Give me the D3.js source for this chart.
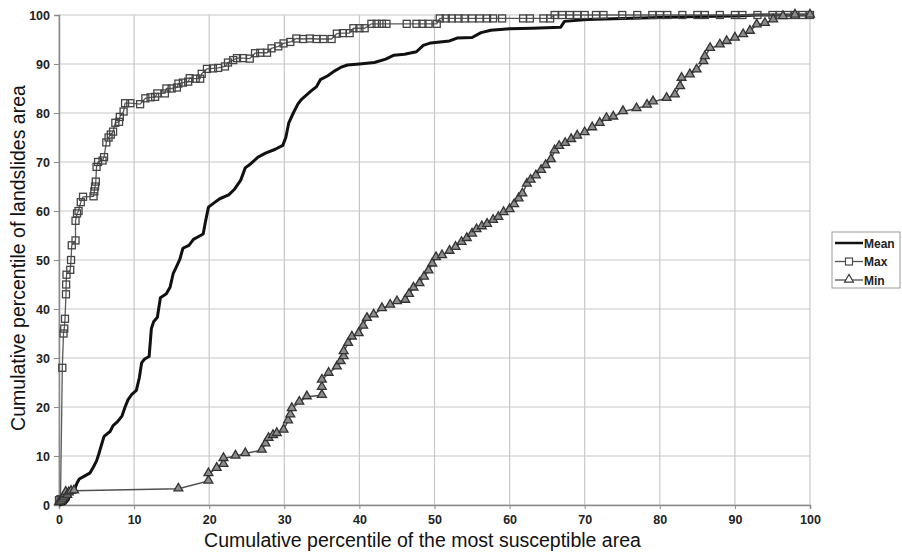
<!DOCTYPE html>
<html>
<head>
<meta charset="utf-8">
<script src="https://cdn.jsdelivr.net/npm/d3@7"></script>
<style>
  body { margin: 0; background: #fff; }
  svg text { font-family: "Liberation Sans", Arial, sans-serif; }
</style>
</head>
<body>
<div id="chart"></div>
<script>
// tick values for both axes
var xTicks = [0, 10, 20, 30, 40, 50, 60, 70, 80, 90, 100];
var yTicks = [0, 10, 20, 30, 40, 50, 60, 70, 80, 90, 100];

// series: [x, y]
var meanData = [[0,0],[0.8,0.3],[1.2,1],[1.5,2.2],[2.0,2.8],[2.4,4.5],[2.7,5.3],[3.5,6],[4.1,6.5],[4.6,7.8],
  [5.0,9],[5.3,10.4],[5.7,12.5],[6.0,14],[6.8,15],[7.2,16.2],[7.8,17],[8.4,18.2],[8.8,20],[9.2,21.5],
  [9.7,22.6],[10.3,23.4],[10.7,26],[11.0,29],[11.4,29.8],[12.0,30.3],[12.3,36],[12.6,37.4],[13.1,38.3],
  [13.5,42.3],[14.3,43.1],[14.8,44.5],[15.2,47.2],[15.6,48.5],[16.1,50.2],[16.5,52.4],[17.3,53],[17.9,54.2],
  [18.6,54.8],[19.2,55.3],[19.5,57.8],[19.9,60.8],[20.6,61.6],[21.4,62.5],[22.6,63.3],[23.4,64.5],[24.2,66.3],
  [24.8,68.8],[25.5,69.6],[26.5,71],[27.5,71.8],[28.8,72.6],[29.8,73.4],[30.2,75],[30.6,78],[31.2,80],
  [31.8,81.8],[32.3,82.8],[33.5,84.4],[34.3,85.4],[34.8,86.8],[35.8,87.6],[36.6,88.5],[37.5,89.3],[38.4,89.8],
  [40,90],[42,90.3],[43.5,91],[44.6,91.8],[46,92],[47.6,92.5],[48.5,93.8],[49.5,94.3],[52,94.7],[53,95.3],
  [55,95.4],[56.2,96.4],[57.5,96.9],[60,97.2],[63,97.3],[66.8,97.5],[67.3,98.7],[70.3,99.1],[75,99.3],
  [80,99.5],[85,99.7],[90,99.8],[93,100],[100,100]];

var maxData = [[0,1],[0.2,1.2],[0.44,28],[0.6,35],[0.7,36],[0.8,38],[0.93,43],[0.95,45],[1.0,47],[1.5,48],
  [1.6,50],[1.7,53],[2.2,54],[2.2,58],[2.4,59.5],[2.6,60],[2.9,61.8],[3.2,62.9],[4.6,63],[4.7,64],[4.8,65],
  [4.9,66],[5.0,69],[5.2,70],[5.8,70.3],[6.0,71],[6.3,74],[6.6,75],[6.9,75.6],[7.2,76.2],[7.5,78],[8.0,78.2],
  [8.1,79.2],[8.6,80.3],[8.8,82],[9.5,82],[10.8,81.8],[11.5,83],[12.2,83.2],[12.8,83.3],[13.1,84],[14.1,84],
  [14.3,85],[15.0,85],[15.7,85.2],[15.9,86],[16.5,86.2],[17.2,86.4],[17.4,87.1],[18.2,87],[18.8,87],[19.0,88],
  [19.7,89],[20.5,89.1],[21.2,89.2],[22.1,89.5],[22.5,90.3],[23.2,90.8],[23.7,91.2],[24.5,91.2],[25.4,91.1],
  [26.1,92.2],[26.8,92.3],[27.7,92.3],[28.3,93.2],[29.2,93.6],[29.9,94.2],[30.8,94.5],[31.6,95.2],[32.5,95.1],
  [33.4,95.2],[34.3,95.1],[35.2,95.1],[36.3,95.1],[37,96.2],[37.8,96.3],[38.7,96.3],[39.2,97.3],[40,97.3],
  [40.7,97.3],[41.6,98.2],[42.3,98.2],[43,98.2],[43.6,98.2],[46.3,98.2],[47.6,98.2],[48.4,98.2],[49.2,98.2],
  [50.3,98.2],[50.7,99.3],[51.5,99.3],[52.3,99.3],[53.2,99.3],[54,99.3],[55,99.3],[56,99.3],[57,99.3],
  [57.8,99.3],[59,99.3],[61.8,99.3],[62.7,99.3],[64.5,99.3],[65.4,99.3],[66,100],[67,100],[68,100],[69,100],
  [70,100],[71.5,100],[72.5,100],[75,100],[77,100],[79,100],[80,100],[81,100],[83,100],[85,100],[86,100],
  [88,100],[90,100],[91,100],[93,100],[95,100],[96,100],[97,100],[98,100],[99,100],[100,100]];

var minData = [[0,0.5],[0.3,0.8],[0.5,1.2],[0.7,1.6],[0.8,2.2],[0.9,2.6],[1.1,2],[1.3,2.5],[1.6,2.8],[2.0,2.9],
  [15.9,3.3],[19.9,4.9],[19.9,6.4],[21.0,7.5],[21.9,8.3],[21.9,9.5],[23.5,10],[24.8,10.5],[27,11.2],[27.5,12.5],
  [27.9,13.6],[28.5,14.2],[29,14.6],[29.9,15.3],[30.5,17.2],[30.8,18.4],[31,19.7],[32,21],[33,22.1],[35,22.4],
  [35,24],[35,25.5],[35.9,26.9],[37,28.2],[37.5,29.3],[37.9,30.3],[37.9,31.3],[38.5,33],[39,34.3],[39.9,35],
  [40.5,36.5],[41,38.1],[41.9,38.8],[43,40.1],[44.1,40.8],[45,41.5],[46.1,41.8],[46.6,43],[47.2,44.3],[48,45.2],
  [48.6,46.5],[49.2,47.8],[49.7,49.2],[50.2,50.5],[51,50.9],[52,51.8],[52.8,52.6],[53.6,53.6],[54.3,54.4],
  [55,55.3],[55.6,56.2],[56.3,56.8],[57,57.3],[57.8,58.1],[58.5,58.7],[59.2,59.7],[60,60.3],[60.6,61.3],
  [61.2,62.5],[61.7,63.5],[62.3,65.5],[62.8,66.3],[63.5,67.2],[64.2,68.3],[64.8,69.3],[65.5,70.5],[66,72.3],
  [66.6,73.2],[67.4,73.8],[68.2,74.6],[69,75.3],[70,76],[71,77],[72,77.9],[72.9,78.9],[73.8,79.2],[75.1,80.3],
  [76.9,80.9],[78.3,81.6],[79.1,82.3],[80.9,83],[82,83.7],[82.7,85.4],[82.9,87.1],[84,87.8],[84.9,88.8],
  [85.8,90.5],[86,91.5],[86.7,93.2],[88,93.9],[88.9,94.6],[90,95.3],[91.1,96],[92,96.7],[92.9,98],[94,98.3],
  [95.1,99],[96.4,99.7],[98,100],[100,100]];

var legendNames = ["Mean", "Max", "Min"];

var w = 902, h = 555;
var margin = {left: 59, right: 92, top: 15, bottom: 50};

var svg = d3.select("#chart")
            .append("svg")
            .attr("width", w)
            .attr("height", h);

var x = d3.scaleLinear().domain([0, 100]).range([margin.left, w - margin.right]);
var y = d3.scaleLinear().domain([0, 100]).range([h - margin.bottom, margin.top]);

// grid lines
svg.append("g").selectAll("line.gx")
   .data(xTicks).enter().append("line")
   .attr("x1", function(d){ return x(d); }).attr("x2", function(d){ return x(d); })
   .attr("y1", y(0)).attr("y2", y(100))
   .style("stroke", "#c8c8c8").style("stroke-width", 1.2);

svg.append("g").selectAll("line.gy")
   .data(yTicks).enter().append("line")
   .attr("x1", x(0)).attr("x2", x(100))
   .attr("y1", function(d){ return y(d); }).attr("y2", function(d){ return y(d); })
   .style("stroke", "#c8c8c8").style("stroke-width", 1.2);

// axes
var xAxis = svg.append("g")
   .attr("transform", "translate(0," + y(0) + ")")
   .call(d3.axisBottom(x).tickValues(xTicks).tickSize(4).tickPadding(6));
var yAxis = svg.append("g")
   .attr("transform", "translate(" + x(0) + ",0)")
   .call(d3.axisLeft(y).tickValues(yTicks).tickSize(5).tickPadding(4));

[xAxis, yAxis].forEach(function(a){
  a.select(".domain").style("stroke", "#8a8a8a").style("stroke-width", 1.5);
  a.selectAll(".tick line").style("stroke", "#8a8a8a");
  a.selectAll(".tick text")
   .style("font-family", "Liberation Sans, Arial, sans-serif")
   .style("font-size", "12.5px").style("font-weight", "bold").style("fill", "#222");
});

// axis titles
svg.append("text")
   .attr("x", (x(0) + x(100)) / 2 - 12).attr("y", 547)
   .attr("text-anchor", "middle")
   .attr("font-size", 19.5).attr("fill", "#111")
   .text("Cumulative percentile of the most susceptible area");

svg.append("text")
   .attr("transform", "translate(25," + (y(50) - 2) + ") rotate(-90)")
   .attr("text-anchor", "middle")
   .attr("font-size", 19.5).attr("fill", "#111")
   .text("Cumulative percentile of landslides area");

var line = d3.line()
   .x(function(d){ return x(d[0]); })
   .y(function(d){ return y(d[1]); });

// Mean
svg.append("path").datum(meanData)
   .attr("d", line)
   .style("fill", "none").style("stroke", "#111").style("stroke-width", 3)
   .style("stroke-linejoin", "round");

// Max
svg.append("path").datum(maxData)
   .attr("d", line)
   .style("fill", "none").style("stroke", "#5a5a5a").style("stroke-width", 1.3);
svg.append("g").selectAll("rect")
   .data(maxData).enter().append("rect")
   .attr("x", function(d){ return x(d[0]) - 3.5; })
   .attr("y", function(d){ return y(d[1]) - 3.5; })
   .attr("width", 7).attr("height", 7)
   .style("fill", "none").style("stroke", "#444").style("stroke-width", 1.3);

// Min
var tri = d3.symbol().type(d3.symbolTriangle).size(34);
svg.append("path").datum(minData)
   .attr("d", line)
   .style("fill", "none").style("stroke", "#505050").style("stroke-width", 1.5);
svg.append("g").selectAll("path.tri")
   .data(minData).enter().append("path")
   .attr("d", tri)
   .attr("transform", function(d){ return "translate(" + x(d[0]) + "," + (y(d[1]) - 0.5) + ")"; })
   .style("fill", "#8c8c8c").style("stroke", "#333").style("stroke-width", 1.3);

// legend
var lg = svg.append("g").attr("transform", "translate(832,232)");
lg.append("rect")
   .attr("x", 0).attr("y", 0).attr("width", 68).attr("height", 56)
   .style("fill", "#fff").style("stroke", "#999").style("stroke-width", 1);

legendNames.forEach(function(name, i){
  var ly = 11 + i * 18.5;
  lg.append("line")
    .attr("x1", 3).attr("x2", 31).attr("y1", ly).attr("y2", ly)
    .style("stroke", i == 0 ? "#111" : "#505050")
    .style("stroke-width", i == 0 ? 2.5 : 1.3);
  if (i == 1) {
    lg.append("rect").attr("x", 17 - 3.5).attr("y", ly - 3.5).attr("width", 7).attr("height", 7)
      .style("fill", "#fff").style("stroke", "#4a4a4a").style("stroke-width", 1.2);
  }
  if (i == 2) {
    lg.append("path").attr("d", tri).attr("transform", "translate(17," + (ly - 0.5) + ")")
      .style("fill", "#fff").style("stroke", "#3a3a3a").style("stroke-width", 1.2);
  }
  lg.append("text")
    .attr("x", 32).attr("y", ly + 4.5)
    .attr("font-size", 12).attr("font-weight", "bold").attr("fill", "#222")
    .text(name);
});
</script>
</body>
</html>
